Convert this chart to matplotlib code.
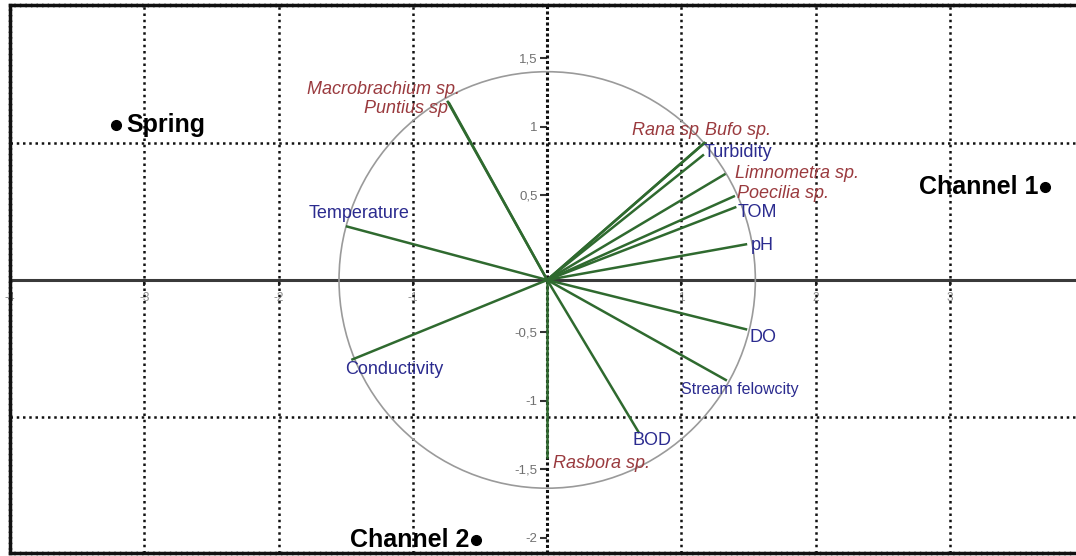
import matplotlib.pyplot as plt
from matplotlib.patches import Ellipse

plt.rcParams['font.family'] = ['Liberation Sans', 'DejaVu Sans']

# sites (scores)
site_names = ['Spring', 'Channel 1', 'Channel 2']
site_x = [-3.21, 3.71, -0.53]
site_y = [1.13, 0.68, -1.90]

# loadings: environment variables and species
vec_names = ['Macrobrachium sp.', 'Puntius sp', 'Temperature', 'Conductivity',
             'Rasbora sp.', 'BOD', 'Stream felowcity', 'DO', 'pH', 'TOM',
             'Poecilia sp.', 'Limnometra sp.', 'Turbidity', 'Rana sp', 'Bufo sp.']
vec_x = [-0.74, -0.73, -1.49, -1.45, 0.00, 0.68, 1.33, 1.48, 1.48, 1.40,
         1.39, 1.32, 1.16, 1.17, 1.16]
vec_y = [1.30, 1.29, 0.39, -0.58, -1.29, -1.11, -0.73, -0.36, 0.26, 0.53,
         0.61, 0.77, 0.91, 1.00, 0.99]
is_species = [True, True, False, False, True, False, False, False, False, False,
              True, True, False, True, True]

# label anchor (x, y, ha) for each vector
label_pos = {
    'Macrobrachium sp.': (-0.65, 1.387, 'right'),
    'Puntius sp': (-0.735, 1.255, 'right'),
    'Temperature': (-1.776, 0.482, 'left'),
    'Conductivity': (-1.502, -0.650, 'left'),
    'Rasbora sp.': (0.047, -1.343, 'left'),
    'BOD': (0.635, -1.175, 'left'),
    'Stream felowcity': (1.0, -0.796, 'left'),
    'DO': (1.506, -0.423, 'left'),
    'pH': (1.514, 0.255, 'left'),
    'TOM': (1.417, 0.496, 'left'),
    'Poecilia sp.': (1.417, 0.628, 'left'),
    'Limnometra sp.': (1.402, 0.774, 'left'),
    'Turbidity': (1.164, 0.927, 'left'),
    'Rana sp': (0.635, 1.088, 'left'),
    'Bufo sp.': (1.172, 1.088, 'left'),
}

y_ticks2 = [1.5, 1, 0.5, -0.5, -1, -1.5, -2]
y_labels2 = ['1,5', '1', '0,5', '-0,5', '-1', '-1,5', '-2']
x_ticks = [-4, -3, -2, -1, 1, 2, 3]
y_offset = 0.119  # loading axis is shifted against the score axis

red = '#9a3a3e'
blue = '#2b2b8f'
green = '#2f6a2f'

fig = plt.figure(figsize=(10.76, 5.56), dpi=100)
ax = fig.add_axes([10 / 1076, 3 / 556, 0.991, 548 / 556])
ax.set_xlim(-4, 3.94)
ax.set_ylim(-1.993, 2.007)
ax.set_xticks([])
ax.set_yticks([])

for s in ['top', 'left', 'bottom']:
    ax.spines[s].set_linestyle((0, (1, 0.6)))
    ax.spines[s].set_linewidth(2.5)
    ax.spines[s].set_color('#111111')
ax.spines['right'].set_visible(False)

for gx in [-3, -2, -1, 1, 2, 3]:
    ax.axvline(gx, color='#111111', lw=1.8, ls=(0, (1, 1.5)), zorder=1)
for gy in [-1, 1]:
    ax.axhline(gy, color='#111111', lw=1.8, ls=(0, (1, 1.5)), zorder=1)
ax.axhline(0, color='#3a3a3a', lw=2.2, zorder=1)
ax.axvline(0, color='#111111', lw=2.2, ls=(0, (1, 0.8)), zorder=1)

ax.add_patch(Ellipse((0, 0), 3.1, 3.04, fill=False, ec='#9a9a9a', lw=1.2, zorder=2))

for name, vx, vy, sp in zip(vec_names, vec_x, vec_y, is_species):
    ax.plot([0, vx], [0, vy], color=green, lw=1.8, zorder=3)
    lx, ly, ha = label_pos[name]
    fs = 11.5 if name == 'Stream felowcity' else 13
    ax.text(lx, ly, name, ha=ha, va='center', fontsize=fs,
            color=red if sp else blue, style='italic' if sp else 'normal', zorder=4)

ax.plot(site_x, site_y, 'o', color='black', ms=7, zorder=5)
for name, sx, sy in zip(site_names, site_x, site_y):
    if name == 'Spring':
        ax.annotate(name, (sx, sy), xytext=(7, 0), textcoords='offset points',
                    ha='left', va='center', fontsize=18, fontweight='bold')
    else:
        ax.annotate(name, (sx, sy), xytext=(-5, 0), textcoords='offset points',
                    ha='right', va='center', fontsize=18, fontweight='bold')

# loading axis on the vertical line
sec_y = ax.secondary_yaxis(0, functions=(lambda y: y - y_offset, lambda v: v + y_offset),
                           transform=ax.transData)
sec_y.set_yticks(y_ticks2, y_labels2)
sec_y.spines['left'].set_visible(False)
sec_y.tick_params(direction='out', length=5, width=1.5, color='#333333',
                  labelsize=9.5, labelcolor='#707070', pad=2)

# score axis on the horizontal line
sec_x = ax.secondary_xaxis(0, transform=ax.transData)
sec_x.set_xticks(x_ticks, [str(t) for t in x_ticks])
sec_x.spines['bottom'].set_visible(False)
sec_x.tick_params(direction='out', length=4, width=1.5, color='#333333',
                  labelsize=8.5, labelcolor='#8a8a8a', pad=5)

plt.savefig('out.png', dpi=100)
